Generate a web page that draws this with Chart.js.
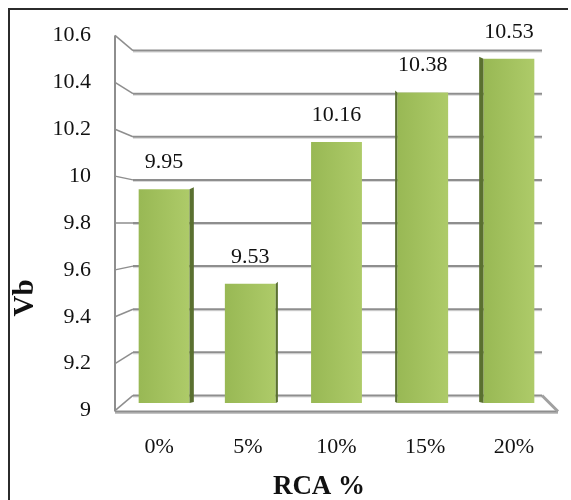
<!DOCTYPE html>
<html>
<head>
<meta charset="utf-8">
<script src="https://cdn.jsdelivr.net/npm/chart.js@4.4.1/dist/chart.umd.min.js"></script>
<style>
  html, body { margin: 0; padding: 0; background: #fff; }
</style>
</head>
<body>
<canvas id="chart" width="571" height="500"></canvas>
<script>
const categories = ['0%', '5%', '10%', '15%', '20%'];
const vbValues = [9.95, 9.53, 10.16, 10.38, 10.53];
const yTicks = [9, 9.2, 9.4, 9.6, 9.8, 10, 10.2, 10.4, 10.6];
const yTickLabels = ['9', '9.2', '9.4', '9.6', '9.8', '10', '10.2', '10.4', '10.6'];
const xTitle = 'RCA %';
const yTitle = 'Vb';

const SERIF = "'Liberation Serif', 'Times New Roman', serif";
const BACK_K = 0.958;   // back wall is a bit smaller than the bar plane
const FRONT_K = 1.042;  // front edge a bit bigger

function depthY(area, y, k) {
    const c = (area.top + area.bottom) / 2;
    return c + (y - c) * k;
}

function line(ctx, x1, y1, x2, y2) {
    ctx.beginPath();
    ctx.moveTo(x1, y1);
    ctx.lineTo(x2, y2);
    ctx.stroke();
}

// frame, back wall gridlines, side wall, floor and axis text
const wallsPlugin = {
    id: 'walls',
    beforeDatasetsDraw(chart) {
        const { ctx, chartArea: a, scales: { x, y } } = chart;
        ctx.save();

        ctx.strokeStyle = '#2b2b2b';
        ctx.lineWidth = 2;
        ctx.beginPath();
        ctx.moveTo(9, 500);
        ctx.lineTo(9, 9);
        ctx.lineTo(568, 9);
        ctx.stroke();

        const backL = a.left + 12, backR = a.right - 10;
        const frontL = a.left - 6, frontR = a.right + 6;

        yTicks.forEach((v, i) => {
            const ym = y.getPixelForValue(v);
            const yb = depthY(a, ym, BACK_K);
            const yf = depthY(a, ym, FRONT_K);
            ctx.lineWidth = 1;
            ctx.strokeStyle = '#d4d4d4';
            line(ctx, backL, yb + 1.5, backR, yb + 1.5);
            ctx.lineWidth = 2;
            ctx.strokeStyle = '#8e8e8e';
            line(ctx, backL, yb, backR, yb);
            ctx.lineWidth = 1.5;
            line(ctx, frontL, yf, backL, yb);

            ctx.fillStyle = '#111';
            ctx.font = '22px ' + SERIF;
            ctx.textAlign = 'right';
            ctx.textBaseline = 'middle';
            ctx.fillText(yTickLabels[i], 91, yf);
        });

        const yTop = depthY(a, y.getPixelForValue(yTicks[yTicks.length - 1]), FRONT_K);
        const yb0 = depthY(a, y.getPixelForValue(yTicks[0]), BACK_K);
        const yf0 = depthY(a, y.getPixelForValue(yTicks[0]), FRONT_K) + 1;
        ctx.strokeStyle = '#8e8e8e';
        ctx.lineWidth = 2;
        line(ctx, frontL, yTop, frontL, yf0);
        ctx.strokeStyle = '#c4c4c4';
        ctx.lineWidth = 2;
        line(ctx, frontL, yf0 + 1.5, frontR, yf0 + 1.5);
        ctx.strokeStyle = '#8e8e8e';
        line(ctx, frontL, yf0, frontR, yf0);
        ctx.lineWidth = 3;
        ctx.strokeStyle = '#a0a0a0';
        line(ctx, backR, yb0, frontR, yf0);

        // category labels on the front edge
        const cx = (a.left + a.right) / 2;
        ctx.fillStyle = '#111';
        ctx.font = '22px ' + SERIF;
        ctx.textAlign = 'center';
        ctx.textBaseline = 'middle';
        categories.forEach((c, i) => {
            const px = x.getPixelForValue(i);
            ctx.fillText(c, cx + (px - cx) * 1.029, 447);
        });

        ctx.font = 'bold 27px ' + SERIF;
        ctx.fillText(xTitle, 319, 487);
        ctx.translate(26, 298);
        ctx.rotate(-Math.PI / 2);
        ctx.font = 'bold 29px ' + SERIF;
        ctx.fillText(yTitle, 0, 0);
        ctx.restore();
    },
    afterDatasetsDraw(chart) {
        const { ctx, chartArea: a } = chart;
        const cx = (a.left + a.right) / 2;
        const meta = chart.getDatasetMeta(0);
        ctx.save();
        meta.data.forEach((bar, i) => {
            const { x, y, width, base } = bar.getProps(['x', 'y', 'width', 'base'], true);
            const bottom = Math.min(base, a.bottom);
            const s = (cx - x) * 0.025;
            const edge = s > 0 ? x + width / 2 : x - width / 2;
            if (Math.abs(s) > 0.5) {
                ctx.fillStyle = '#5a7030';
                ctx.beginPath();
                ctx.moveTo(edge, y);
                ctx.lineTo(edge + s, y - 2);
                ctx.lineTo(edge + s, bottom - 1);
                ctx.lineTo(edge, bottom);
                ctx.closePath();
                ctx.fill();
            }

            ctx.fillStyle = '#111';
            ctx.font = '22px ' + SERIF;
            ctx.textAlign = 'center';
            ctx.textBaseline = 'middle';
            ctx.fillText(vbValues[i].toFixed(2), x, y - 27);
        });
        ctx.restore();
    }
};

function barFill(context) {
    const chart = context.chart;
    if (!chart.chartArea || context.type !== 'data') return '#a2c060';
    const px = chart.scales.x.getPixelForValue(context.dataIndex);
    const g = chart.ctx.createLinearGradient(px - 26, 0, px + 26, 0);
    g.addColorStop(0, '#98b854');
    g.addColorStop(1, '#aecb69');
    return g;
}

new Chart(document.getElementById('chart'), {
    type: 'bar',
    data: {
        labels: categories,
        datasets: [{
            data: vbValues,
            backgroundColor: barFill,
            borderWidth: 0,
            barPercentage: 0.59,
            categoryPercentage: 1
        }]
    },
    options: {
        responsive: false,
        animation: false,
        layout: { padding: { left: 121, right: 19, top: 43, bottom: 97 } },
        plugins: { legend: { display: false }, tooltip: { enabled: false } },
        scales: {
            x: { display: false },
            y: { display: false, min: 9, max: 10.6 }
        }
    },
    plugins: [wallsPlugin]
});
</script>
</body>
</html>
